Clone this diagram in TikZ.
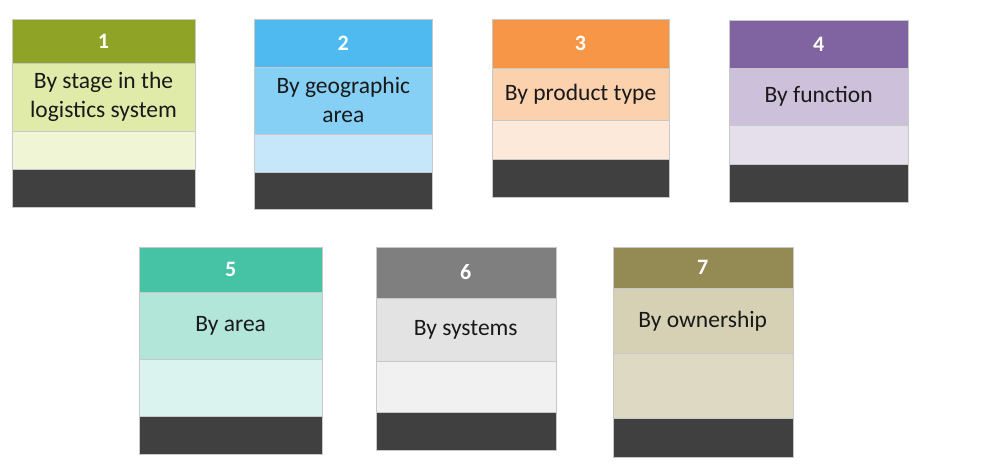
\documentclass[tikz,border=0pt]{standalone}
\usepackage{fontspec}
\setmainfont{Carlito}
\definecolor{darkband}{HTML}{404040}
\definecolor{edge}{HTML}{C8C8C8}
% card 1: olive green
\definecolor{hA}{HTML}{8FA327}\definecolor{tA}{HTML}{E0EBA9}\definecolor{lA}{HTML}{F0F5D5}
% card 2: sky blue
\definecolor{hB}{HTML}{4EBAF0}\definecolor{tB}{HTML}{86D0F5}\definecolor{lB}{HTML}{C6E7FA}
% card 3: orange
\definecolor{hC}{HTML}{F79646}\definecolor{tC}{HTML}{FBD1AE}\definecolor{lC}{HTML}{FDE9DA}
% card 4: purple
\definecolor{hD}{HTML}{8064A2}\definecolor{tD}{HTML}{CCC0DA}\definecolor{lD}{HTML}{E5DFEC}
% card 5: teal
\definecolor{hE}{HTML}{46C3A4}\definecolor{tE}{HTML}{B1E6D9}\definecolor{lE}{HTML}{DAF3EE}
% card 6: grey
\definecolor{hF}{HTML}{7F7F7F}\definecolor{tF}{HTML}{E3E3E3}\definecolor{lF}{HTML}{F1F1F1}
% card 7: khaki
\definecolor{hG}{HTML}{948A54}\definecolor{tG}{HTML}{D6D1B5}\definecolor{lG}{HTML}{DED9C3}
\tikzset{
  band/.style={anchor=north west, inner sep=0pt, outer sep=0pt, draw=edge, line width=0.4pt,
    minimum width=#1, align=center},
  numtext/.style={text=white, font=\fontsize{22}{26}\selectfont\bfseries},
  labeltext/.style={text=black!90, font=\fontsize{23.5}{29}\selectfont},
}
\begin{document}
\begin{tikzpicture}[x=1pt,y=-1pt]
\useasboundingbox[fill=white] (0,0) rectangle (991,467);
% card 1
\node[band=183pt, fill=hA, minimum height=43.7pt, numtext] (h1) at (12,19.3) {1};
\node[band=183pt, fill=tA, minimum height=67.7pt, labeltext] (t1) at (h1.south west) {By stage in the\\logistics system};
\node[band=183pt, fill=lA, minimum height=38.3pt] (l1) at (t1.south west) {};
\node[band=183pt, fill=darkband, minimum height=37.7pt] (d1) at (l1.south west) {};
% card 2
\node[band=178pt, fill=hB, minimum height=47.4pt, numtext] (h2) at (254.3,19.3) {2};
\node[band=178pt, fill=tB, minimum height=67.3pt, labeltext] (t2) at (h2.south west) {By geographic\\area};
\node[band=178pt, fill=lB, minimum height=37.7pt] (l2) at (t2.south west) {};
\node[band=178pt, fill=darkband, minimum height=37.6pt] (d2) at (l2.south west) {};
% card 3
\node[band=177.6pt, fill=hC, minimum height=48.4pt, numtext] (h3) at (491.7,19.3) {3};
\node[band=177.6pt, fill=tC, minimum height=52.3pt, labeltext] (t3) at (h3.south west) {By product type};
\node[band=177.6pt, fill=lC, minimum height=39.3pt] (l3) at (t3.south west) {};
\node[band=177.6pt, fill=darkband, minimum height=38pt] (d3) at (l3.south west) {};
% card 4
\node[band=179.3pt, fill=hD, minimum height=48.3pt, numtext] (h4) at (729,20) {4};
\node[band=179.3pt, fill=tD, minimum height=56.7pt, labeltext] (t4) at (h4.south west) {By function};
\node[band=179.3pt, fill=lD, minimum height=39pt] (l4) at (t4.south west) {};
\node[band=179.3pt, fill=darkband, minimum height=37.7pt] (d4) at (l4.south west) {};
% card 5
\node[band=183.3pt, fill=hE, minimum height=45pt, numtext] (h5) at (139,246.7) {5};
\node[band=183.3pt, fill=tE, minimum height=67.6pt, labeltext] (t5) at (h5.south west) {By area};
\node[band=183.3pt, fill=lE, minimum height=56.7pt] (l5) at (t5.south west) {};
\node[band=183.3pt, fill=darkband, minimum height=38pt] (d5) at (l5.south west) {};
% card 6
\node[band=180pt, fill=hF, minimum height=51pt, numtext] (h6) at (375.7,246.7) {6};
\node[band=180pt, fill=tF, minimum height=63.3pt, labeltext] (t6) at (h6.south west) {By systems};
\node[band=180pt, fill=lF, minimum height=50.7pt] (l6) at (t6.south west) {};
\node[band=180pt, fill=darkband, minimum height=38.3pt] (d6) at (l6.south west) {};
% card 7
\node[band=180pt, fill=hG, minimum height=41.6pt, numtext] (h7) at (612.7,246.7) {7};
\node[band=180pt, fill=tG, minimum height=65pt, labeltext] (t7) at (h7.south west) {By ownership};
\node[band=180pt, fill=lG, minimum height=65pt] (l7) at (t7.south west) {};
\node[band=180pt, fill=darkband, minimum height=38.4pt] (d7) at (l7.south west) {};
\end{tikzpicture}
\end{document}
